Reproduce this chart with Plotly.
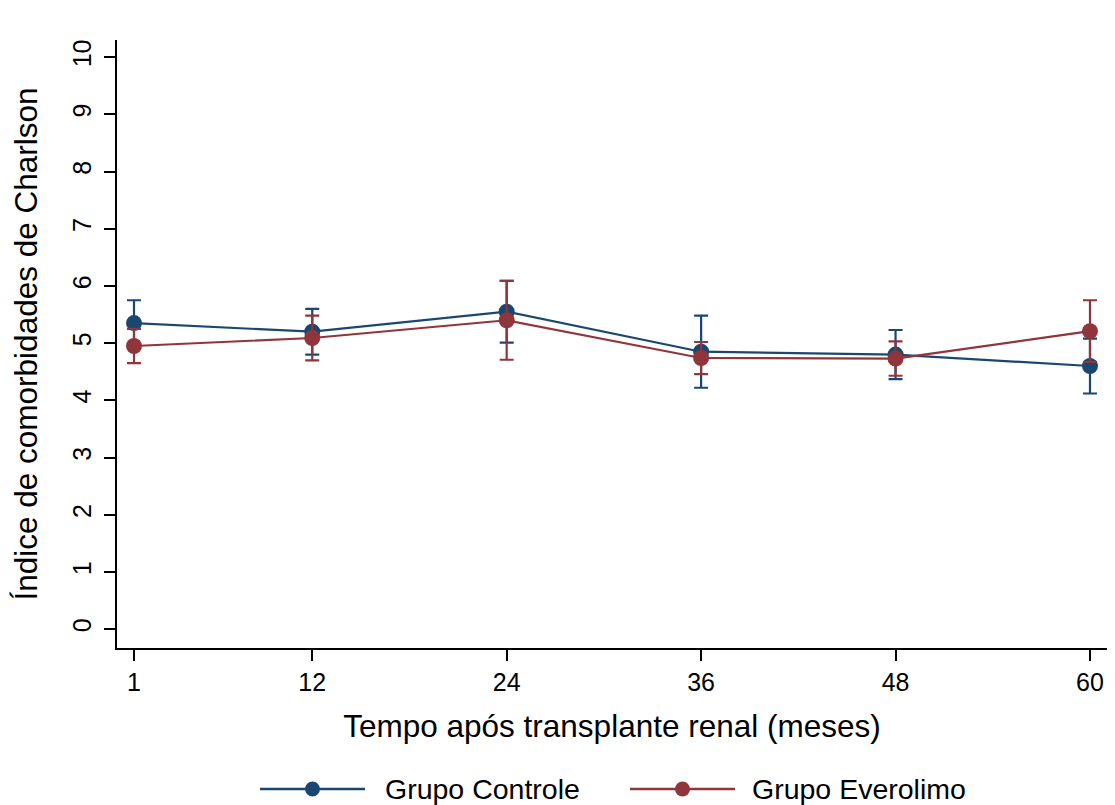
import plotly.graph_objects as go

months = [1, 12, 24, 36, 48, 60]
controle_mean = [5.35, 5.20, 5.55, 4.85, 4.80, 4.60]
controle_err = [0.40, 0.40, 0.54, 0.63, 0.43, 0.48]
everolimo_mean = [4.95, 5.09, 5.40, 4.74, 4.73, 5.21]
everolimo_err = [0.30, 0.39, 0.69, 0.28, 0.30, 0.54]

x_ticks = [1, 12, 24, 36, 48, 60]
y_ticks = list(range(0, 11))

navy = "#1a476f"
maroon = "#90353b"

# the page body adds an 8px offset; size the figure so it fills the window
OFF = 8
W, H = 1115 - OFF, 805 - OFF
ML, MR, MT, MB = 117 - OFF, 8, 40 - OFF, 157
PW, PH = W - ML - MR, H - MT - MB


def px(x):
    return (x - OFF - ML) / PW


def py(y):
    return (H - MB - (y - OFF)) / PH


series = [
    ("Grupo Controle", controle_mean, controle_err, navy),
    ("Grupo Everolimo", everolimo_mean, everolimo_err, maroon),
]

fig = go.Figure()
for name, mean, err, col in series:
    fig.add_trace(go.Scatter(
        x=months, y=mean, name=name, mode="lines+markers",
        line=dict(color=col, width=2.2),
        marker=dict(color=col, size=16),
        error_y=dict(type="data", array=err, visible=True, color=col,
                     thickness=2.2, width=7),
        showlegend=False, cliponaxis=False,
    ))

font = "Liberation Sans, Arial, Helvetica, sans-serif"

# custom legend (long line with centered marker, as in the reference)
shapes = []
annotations = []
legend_items = [(260, 365, 383), (630, 735, 750)]
ly = 789
for (x0, x1, tx), (name, _, _, col) in zip(legend_items, series):
    shapes.append(dict(type="line", xref="paper", yref="paper",
                       x0=px(x0), x1=px(x1), y0=py(ly), y1=py(ly),
                       line=dict(color=col, width=2.5)))
    cx = (x0 + x1) / 2
    shapes.append(dict(type="circle", xref="paper", yref="paper",
                       x0=px(cx - 7.5), x1=px(cx + 7.5), y0=py(ly + 7.5), y1=py(ly - 7.5),
                       fillcolor=col, line=dict(color=col, width=0)))
    annotations.append(dict(xref="paper", yref="paper", x=px(tx), y=py(ly),
                            xanchor="left", yanchor="middle", showarrow=False,
                            text=name, font=dict(size=28.5, family=font, color="black")))

fig.update_layout(
    width=W, height=H,
    paper_bgcolor="white", plot_bgcolor="white",
    margin=dict(l=ML, r=MR, t=MT, b=MB, autoexpand=False),
    font=dict(family=font, color="black", size=20),
    showlegend=False,
    hovermode=False,
    shapes=shapes,
    annotations=annotations,
    xaxis=dict(
        range=[-0.05, 61.05], tickmode="array", tickvals=x_ticks,
        ticktext=[str(v) for v in x_ticks],
        showgrid=False, zeroline=False, showline=True, linecolor="black", linewidth=2,
        ticks="outside", ticklen=11, tickwidth=2, tickcolor="black",
        tickfont=dict(size=25), automargin=False,
        title=dict(text="Tempo após transplante renal (meses)", font=dict(size=31.5), standoff=20),
    ),
    yaxis=dict(
        range=[-0.33, 10.3], tickmode="array", tickvals=y_ticks,
        ticktext=[str(v) for v in y_ticks],
        showgrid=False, zeroline=False, showline=True, linecolor="black", linewidth=2,
        ticks="outside", ticklen=11, tickwidth=2, tickcolor="black",
        tickangle=-90, tickfont=dict(size=25), automargin=False, ticklabelstandoff=3,
        title=dict(text="Índice de comorbidades de Charlson", font=dict(size=31.5), standoff=22),
    ),
)

fig.write_html("out.html")
